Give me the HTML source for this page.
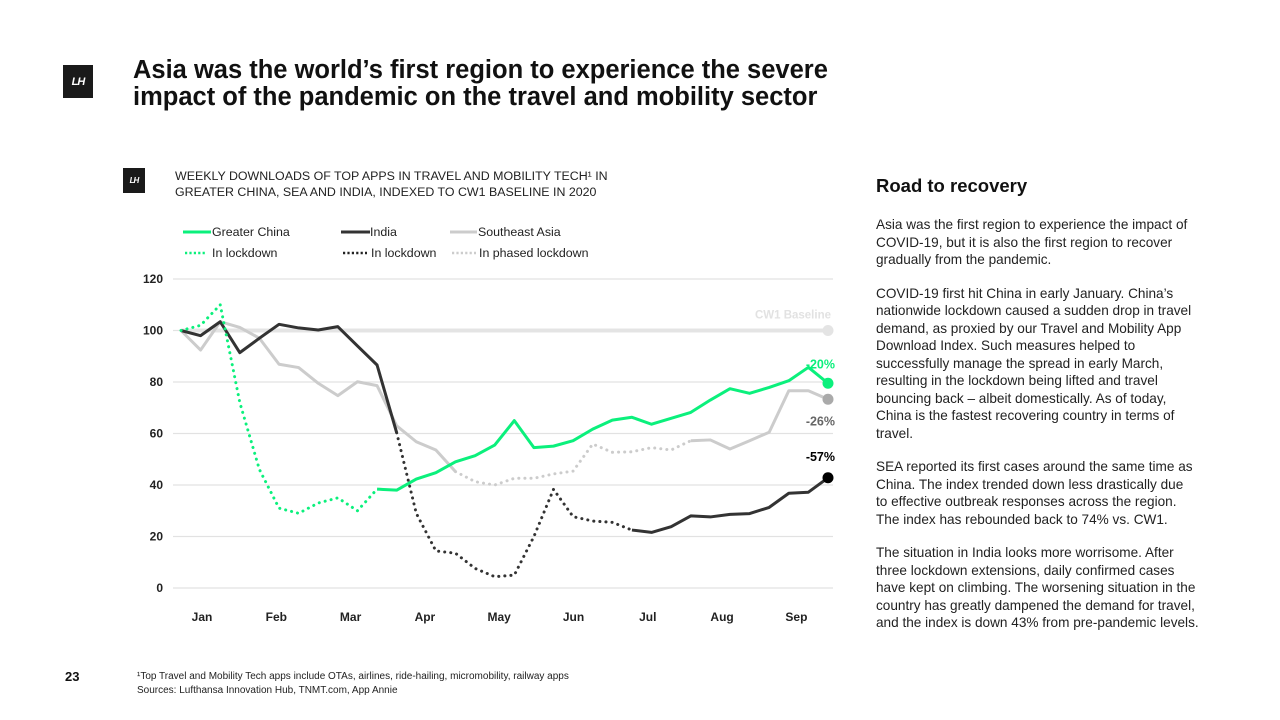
<!DOCTYPE html>
<html><head><meta charset="utf-8"><style>
body{margin:0;width:1280px;height:720px;background:#fff;position:relative;overflow:hidden;font-family:"Liberation Sans",sans-serif;color:#111}
.abs{position:absolute}
.logo{background:#1a1a1a;color:#fff;font-style:italic;font-weight:bold;display:flex;align-items:center;justify-content:center;letter-spacing:-1px}
h1{position:absolute;left:133px;top:57px;margin:0;font-size:25.5px;line-height:27px;font-weight:bold;letter-spacing:0}
.sub{left:175px;top:168px;font-size:12.4px;line-height:16px;color:#222}
.panel{left:876px;top:216px;font-size:13.6px;line-height:17.5px;color:#222;width:360px}
.panel p{margin:0 0 16px 0;white-space:nowrap}
</style></head><body>
<div class="abs logo" style="left:63px;top:65px;width:30px;height:33px;font-size:11px">LH</div>
<h1>Asia was the world’s first region to experience the severe<br>impact of the pandemic on the travel and mobility sector</h1>
<div class="abs logo" style="left:123px;top:168px;width:22px;height:25px;font-size:8px">LH</div>
<div class="abs sub">WEEKLY DOWNLOADS OF TOP APPS IN TRAVEL AND MOBILITY TECH¹ IN<br>GREATER CHINA, SEA AND INDIA, INDEXED TO CW1 BASELINE IN 2020</div>

<svg class="abs" style="left:0;top:0" width="1280" height="720">
<g font-family="Liberation Sans" font-size="12.4" fill="#222">
 <line x1="183" y1="232" x2="211" y2="232" stroke="#0bf07c" stroke-width="3"/><text x="212" y="236">Greater China</text>
 <line x1="185" y1="253" x2="207" y2="253" stroke="#0bf07c" stroke-width="2.5" stroke-dasharray="2.2,2.2"/><text x="212" y="257">In lockdown</text>
 <line x1="341" y1="232" x2="370" y2="232" stroke="#333" stroke-width="3"/><text x="370" y="236">India</text>
 <line x1="343" y1="253" x2="367" y2="253" stroke="#222" stroke-width="2.5" stroke-dasharray="2.2,2.2"/><text x="371" y="257">In lockdown</text>
 <line x1="450" y1="232" x2="477" y2="232" stroke="#ccc" stroke-width="3"/><text x="478" y="236">Southeast Asia</text>
 <line x1="452" y1="253" x2="476" y2="253" stroke="#ccc" stroke-width="2.5" stroke-dasharray="2.2,2.2"/><text x="479" y="257">In phased lockdown</text>
</g>
<g id="grid"></g><g id="lines"></g><g id="labels"></g>
</svg>

<div class="abs" style="left:876px;top:175px;font-size:18.5px;font-weight:bold">Road to recovery</div>
<div class="abs panel">
<p>Asia was the first region to experience the impact of<br>COVID-19, but it is also the first region to recover<br>gradually from the pandemic.</p>
<p>COVID-19 first hit China in early January. China’s<br>nationwide lockdown caused a sudden drop in travel<br>demand, as proxied by our Travel and Mobility App<br>Download Index. Such measures helped to<br>successfully manage the spread in early March,<br>resulting in the lockdown being lifted and travel<br>bouncing back – albeit domestically. As of today,<br>China is the fastest recovering country in terms of<br>travel.</p>
<p>SEA reported its first cases around the same time as<br>China. The index trended down less drastically due<br>to effective outbreak responses across the region.<br>The index has rebounded back to 74% vs. CW1.</p>
<p>The situation in India looks more worrisome. After<br>three lockdown extensions, daily confirmed cases<br>have kept on climbing. The worsening situation in the<br>country has greatly dampened the demand for travel,<br>and the index is down 43% from pre-pandemic levels.</p>
</div>
<div class="abs" style="left:65px;top:669px;font-size:13px;font-weight:bold">23</div>
<div class="abs" style="left:137px;top:670px;font-size:10px;line-height:13.5px;color:#222">¹Top Travel and Mobility Tech apps include OTAs, airlines, ride-hailing, micromobility, railway apps<br>Sources: Lufthansa Innovation Hub, TNMT.com, App Annie</div>

<script>
const months=["Jan","Feb","Mar","Apr","May","Jun","Jul","Aug","Sep"];
const yTicks=[0,20,40,60,80,100,120];
const china=[100,102,110,72,46,31,29,33,35,30,38.4,38,42.3,44.8,49,51.4,55.5,65,54.5,55.1,57.2,61.7,65.2,66.3,63.6,65.9,68.2,73,77.4,75.6,77.9,80.5,85.7,79.5];
const india=[100,98,103.4,91.4,97,102.4,101,100.2,101.5,94,86.6,60.3,29,14.4,13.5,7.6,4.4,5,20,38.3,27.7,26,25.5,22.5,21.6,23.8,28,27.6,28.6,28.9,31.3,36.8,37.2,42.8];
const sea=[100,92.4,103.4,101.2,97,86.9,85.6,79.5,74.7,80.1,78.6,63,56.8,53.6,45.2,41.3,40,42.6,42.6,44.3,45.4,55.9,52.7,52.9,54.5,53.6,57.2,57.5,54,57.2,60.5,76.6,76.6,73.3];
const chinaLock=[0,10], indiaLock=[11,23], seaLock=[14,26];
const endLabels=["-20%","-26%","-57%"];
const NS="http://www.w3.org/2000/svg";
const X=i=>181+i*(828-181)/33;
const Y=v=>588-v*(588-279)/120;
const MX=i=>202+i*74.3;
function mk(t,a,p){const e=document.createElementNS(NS,t);for(const k in a)e.setAttribute(k,a[k]);p.appendChild(e);return e;}
const grid=document.getElementById('grid'),lines=document.getElementById('lines'),labels=document.getElementById('labels');
yTicks.forEach(v=>{
 const l=mk('line',{x1:173,x2:833,y1:Y(v),y2:Y(v),stroke:'#e2e2e2','stroke-width':1.2},grid);
 
 
 const t=mk('text',{x:163,y:Y(v)+4,'text-anchor':'end','font-size':12,'font-weight':'bold','font-family':'Liberation Sans',fill:'#222'},labels);
 t.textContent=v;
 
 
});
months.forEach((m,i)=>{
 const t=mk('text',{x:MX(i),y:621,'text-anchor':'middle','font-size':12,'font-weight':'bold','font-family':'Liberation Sans',fill:'#222'},labels);
 t.textContent=m;
 
 
});
const bl=mk('line',{x1:181,x2:828,y1:Y(100),y2:Y(100),stroke:'#e4e4e4','stroke-width':4},grid);


const bd=mk('circle',{cx:828,cy:Y(100),r:5.5,fill:'#e4e4e4'},grid);


const bt=mk('text',{x:831,y:Y(100)-12,'text-anchor':'end','font-size':11.5,'font-weight':'bold','font-family':'Liberation Sans',fill:'#e2e2e2'},labels);
bt.textContent='CW1 Baseline';


function seg(arr,a,b,color,dotted,name){
 const pts=[];for(let i=a;i<=b;i++)pts.push(X(i)+','+Y(arr[i]));
 const p=mk('polyline',{points:pts.join(' '),fill:'none',stroke:color,'stroke-width':3,'stroke-linejoin':'round','stroke-linecap':dotted?'round':'butt'},lines);
 if(dotted){p.setAttribute('stroke-dasharray','0.1,6');}
 
 
}
function series(arr,lock,color,name){
 if(lock[0]>0)seg(arr,0,lock[0],color,false,name+'-line');
 seg(arr,lock[0],lock[1],color,true,name+'-lockdown');
 seg(arr,lock[1],arr.length-1,color,false,name+'-line');
}
series(sea,seaLock,'#cccccc','sea');
series(india,indiaLock,'#333333','india');
series(china,chinaLock,'#0bf07c','china');
const last=china.length-1;
[[china,'#0bf07c',endLabels[0],-15,'china'],[sea,'#aaaaaa',endLabels[1],26,'sea'],[india,'#000',endLabels[2],-17,'india']].forEach(d=>{
 const c=mk('circle',{cx:X(last),cy:Y(d[0][last]),r:5.5,fill:d[1]},lines);
 
 
 const t=mk('text',{x:835,y:Y(d[0][last])+d[3],'text-anchor':'end','font-size':12.5,'font-weight':'bold','font-family':'Liberation Sans',fill:d[4]==='sea'?'#666':d[1]},labels);
 t.textContent=d[2];
 
 
});
</script>
</body></html>
